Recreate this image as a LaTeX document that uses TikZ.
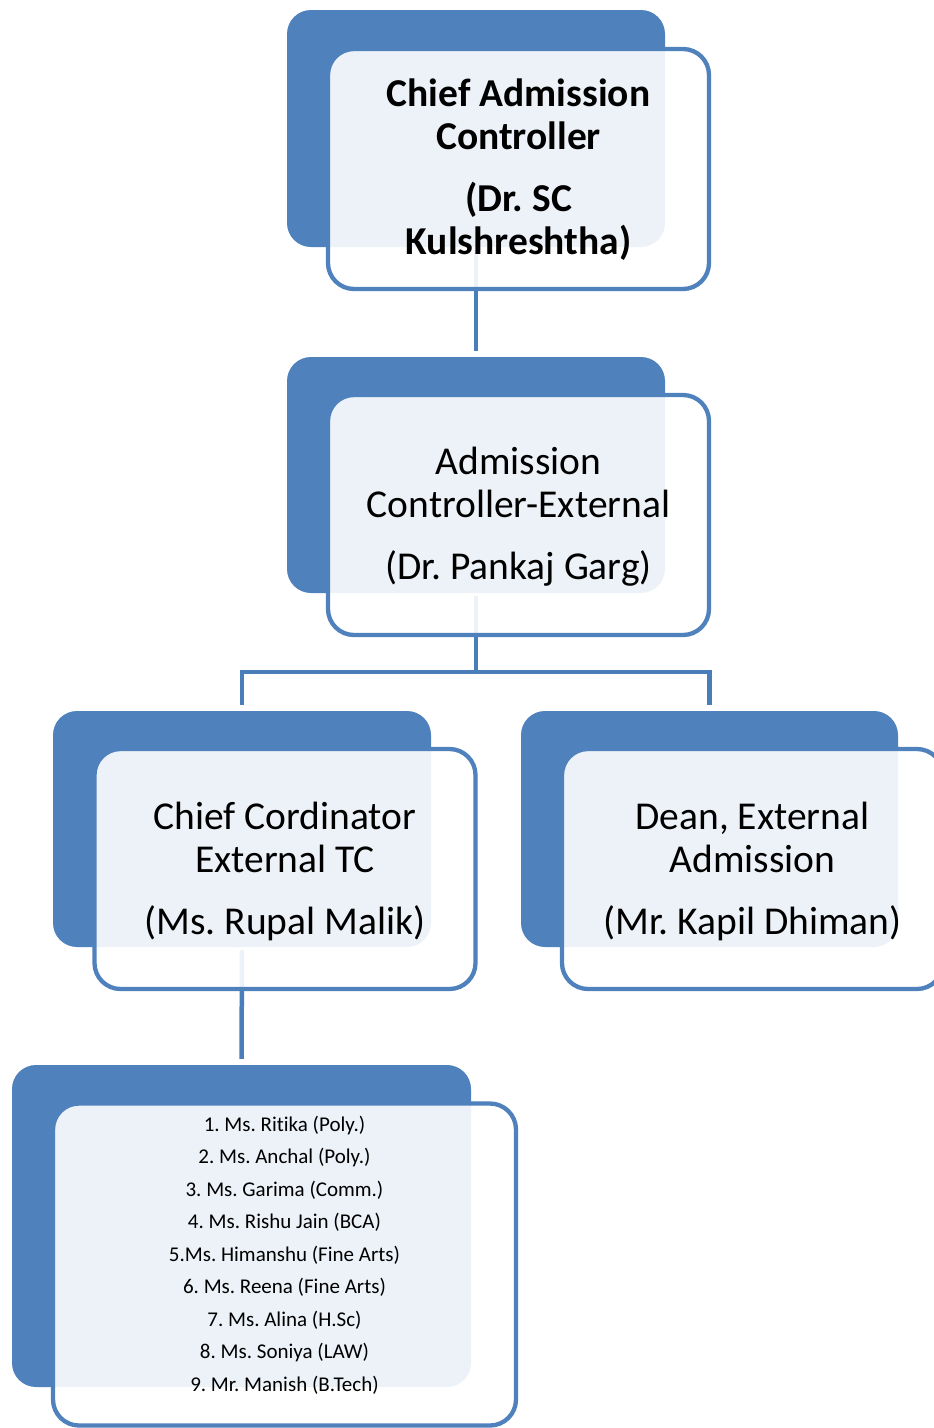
\documentclass[tikz,border=0pt]{standalone}
\usepackage{fontspec}
\setmainfont{Carlito}[Ligatures={NoCommon,NoRequired,NoContextual}]
\frenchspacing
\definecolor{accblue}{HTML}{4F81BD}
\definecolor{linkblue}{HTML}{4A7EBB}
\tikzset{
  backbox/.style={rectangle, rounded corners=24pt, fill=accblue, draw=none, inner sep=0pt},
  frontbox/.style={rectangle, rounded corners=26pt, draw=accblue, line width=4.3pt, fill=white, fill opacity=0.9, draw opacity=1, inner sep=0pt, minimum width=381pt, minimum height=240pt},
  bigtext/.style={align=center, inner sep=0pt, text=black, font=\fontsize{39.5}{43}\selectfont},
  listtext/.style={align=center, inner sep=0pt, text=black, font=\fontsize{21}{32.5}\selectfont},
  link/.style={draw=linkblue, line width=4.5pt, shorten <=3pt, shorten >=6pt}
}
\begin{document}
\begin{tikzpicture}[x=1pt,y=-1pt]
\clip (0,0) rectangle (934,1428);
\fill[white] (0,0) rectangle (934,1428);
% back boxes
\node[backbox, minimum width=378pt, minimum height=237pt] (b1) at (476,128.5) {};
\node[backbox, minimum width=378pt, minimum height=236pt] (b2) at (476,475) {};
\node[backbox, minimum width=378pt, minimum height=236pt] (b3) at (242,829) {};
\node[backbox, minimum width=377pt, minimum height=236pt] (b4) at (709.5,829) {};
\node[backbox, minimum width=459pt, minimum height=322pt] (b5) at (241.5,1226) {};
% connectors
\coordinate (j) at (476,672);
\draw[link] (b1.south) -- (b2.north);
\draw[link, shorten >=0pt] (b2.south) -- (j);
\draw[link, shorten <=0pt] (j) -| (b3.north);
\draw[link, shorten <=0pt] (j) -| (b4.north);
\draw[link] (b3.south) -- (b5.north);
% front boxes
\node[frontbox] (f1) at (518.5,169) {};
\node[frontbox] (f2) at (518.5,515) {};
\node[frontbox] (f3) at (285,869) {};
\node[frontbox] (f4) at (752.5,869) {};
\node[frontbox, minimum width=463pt, minimum height=322pt] (f5) at (284.5,1264.5) {};
% texts
\node[bigtext, font=\fontsize{39.5}{43}\selectfont\bfseries] (t1) at (518.5,170) {Chief Admission\\Controller\\[19pt](Dr. SC\\Kulshreshtha)};
\node[bigtext] (t2) at (518.5,517) {Admission\\Controller-External\\[19pt](Dr. Pankaj Garg)};
\node[bigtext] (t3) at (285,871) {Chief Cordinator\\External TC\\[19pt](Ms. Rupal Malik)};
\node[bigtext] (t4) at (752.5,871) {Dean, External\\Admission\\[19pt](Mr. Kapil Dhiman)};
\node[listtext] (t5) at (284.5,1255) {1. Ms. Ritika (Poly.)\\2. Ms. Anchal (Poly.)\\3. Ms. Garima (Comm.)\\4. Ms. Rishu Jain (BCA)\\5.Ms. Himanshu (Fine Arts)\\6. Ms. Reena (Fine Arts)\\7. Ms. Alina (H.Sc)\\8. Ms. Soniya (LAW)\\9. Mr. Manish (B.Tech)};
\end{tikzpicture}
\end{document}
